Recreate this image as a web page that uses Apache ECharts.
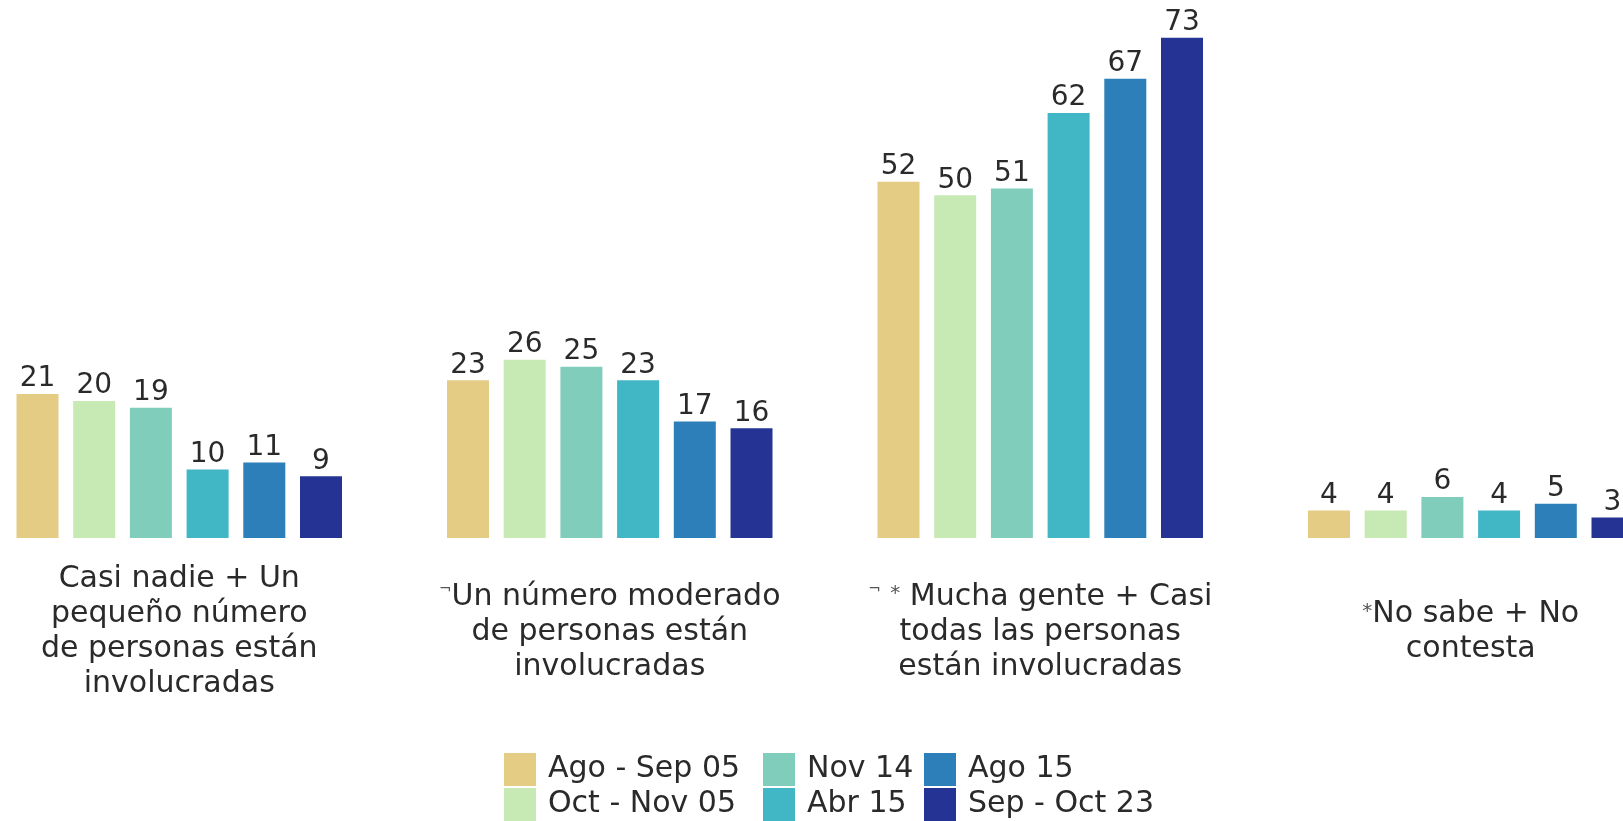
<!DOCTYPE html>
<html>
<head>
<meta charset="utf-8">
<script src="https://cdn.jsdelivr.net/npm/echarts@6/dist/echarts.min.js"></script>
<style>
  html, body { margin: 0; padding: 0; background: #fff; overflow: hidden; }
  #main { position: absolute; left: -36px; top: 0; width: 1722px; height: 821px; }
</style>
</head>
<body>
<div id="main"></div>
<script>
// categorias (eje x)
var categorias = [
    'Casi nadie + Un\npequeño número\nde personas están\ninvolucradas',
    '¬Un número moderado\nde personas están\ninvolucradas',
    '¬ * Mucha gente + Casi\ntodas las personas\nestán involucradas',
    '*No sabe + No\ncontesta'
];

// periodos (series)
var periodos = ['Ago - Sep 05', 'Oct - Nov 05', 'Nov 14', 'Abr 15', 'Ago 15', 'Sep - Oct 23'];
var colores = ['#E5CC85', '#C7E9B4', '#80CDBB', '#41B6C4', '#2C7FB8', '#253494'];

// valores por periodo
var agoSep05 = [21, 23, 52, 4];
var octNov05 = [20, 26, 50, 4];
var nov14 = [19, 25, 51, 6];
var abr15 = [10, 23, 62, 4];
var ago15 = [11, 17, 67, 5];
var sepOct23 = [9, 16, 73, 3];
var valores = [agoSep05, octNov05, nov14, abr15, ago15, sepOct23];

var chart = echarts.init(document.getElementById('main'));

var fuente = 'DejaVu Sans';

var series = periodos.map(function (p, i) {
    return {
        name: p,
        type: 'bar',
        barWidth: 42,
        barGap: '35%',
        data: valores[i],
        itemStyle: { color: colores[i] },
        label: {
            show: true,
            position: 'top',
            distance: 1,
            color: '#2a2a2a',
            fontFamily: fuente,
            fontSize: 28
        }
    };
});

// leyenda en tres columnas de dos filas
function leyenda(items, left) {
    return {
        data: items,
        orient: 'vertical',
        left: left,
        top: 753,
        padding: 0,
        itemWidth: 32,
        itemHeight: 33,
        itemGap: 2,
        icon: 'rect',
        textStyle: { fontFamily: fuente, fontSize: 30, color: '#2a2a2a', padding: [0, 0, 0, 7] }
    };
}

var option = {
    animation: false,
    grid: { left: 0, right: 0, top: 24, bottom: 283, containLabel: false },
    legend: [
        leyenda([periodos[0], periodos[1]], 540),
        leyenda([periodos[2], periodos[3]], 799),
        leyenda([periodos[4], periodos[5]], 960)
    ],
    xAxis: {
        type: 'category',
        data: categorias,
        axisLine: { show: false },
        axisTick: { show: false },
        axisLabel: {
            interval: 0,
            margin: 94,
            verticalAlign: 'middle',
            lineHeight: 35,
            fontFamily: fuente,
            fontSize: 30,
            color: '#2a2a2a',
            formatter: function (v) {
                return v.replace(/¬/g, '{sup|¬}').replace(/\*/g, '{ast|*}');
            },
            rich: {
                sup: { fontSize: 15, color: '#555', padding: [0, 0, 14, 0], fontFamily: fuente },
                ast: { fontSize: 20, color: '#555', padding: [0, 0, 6, 0], fontFamily: fuente }
            }
        }
    },
    yAxis: {
        type: 'value',
        min: 0,
        max: 75,
        show: false,
        splitLine: { show: false }
    },
    series: series
};

chart.setOption(option);
</script>
</body>
</html>
